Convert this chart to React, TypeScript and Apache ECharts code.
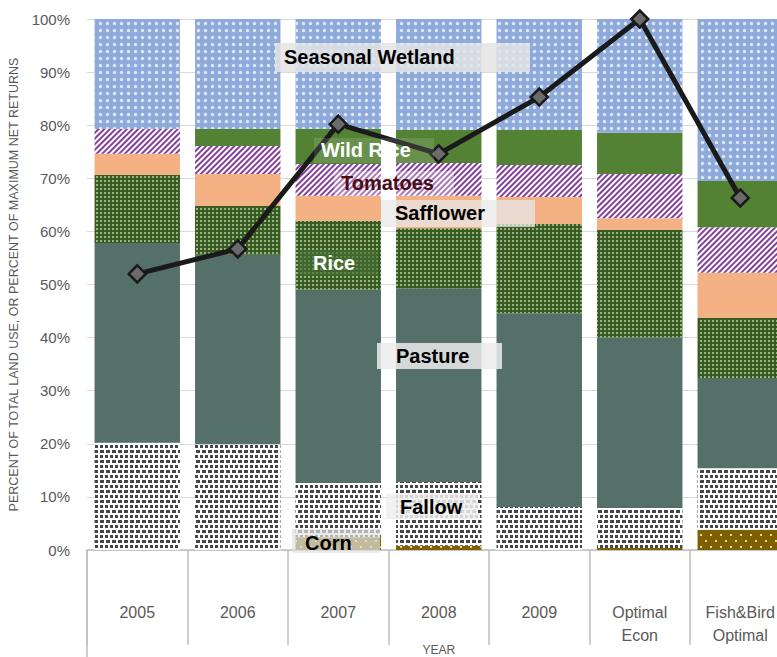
import React, { useEffect, useRef } from "react";
import * as echarts from "echarts";

const categories = ["2005", "2006", "2007", "2008", "2009", "Optimal\nEcon", "Fish&Bird\nOptimal"];
const corn = [0, 0, 2.4, 0.8, 0, 0.4, 3.8];
const fallow = [20.2, 19.9, 10.2, 12.0, 8.1, 7.5, 11.6];
const pasture = [37.6, 35.7, 36.4, 36.5, 36.5, 32.1, 17.0];
const rice = [12.8, 9.2, 13.0, 11.3, 16.8, 20.3, 11.3];
const safflower = [4.0, 6.0, 4.7, 6.1, 5.1, 2.2, 8.5];
const tomatoes = [4.7, 5.3, 6.0, 6.2, 6.0, 8.3, 8.6];
const wildRice = [0, 3.2, 6.6, 6.2, 6.6, 7.8, 8.7];
const seasonalWetland = [20.7, 20.7, 20.7, 20.9, 20.9, 21.4, 30.5];
const netReturns = [52.0, 56.7, 80.2, 74.6, 85.3, 100, 66.3];

const yMin = 0;
const yMax = 100;
const yInterval = 10;

const FONT = "'Liberation Sans', Arial, sans-serif";

type Ann = { text: string; tx: number; ty: number; color: string; box: [number, number, number, number] | null; boxColor: string };
const annotations: Ann[] = [
  { text: "Seasonal Wetland", tx: 284, ty: 57, color: "#000000", box: [275, 43, 255, 29], boxColor: "rgba(228,228,228,0.85)" },
  { text: "Wild Rice", tx: 321, ty: 150, color: "#ffffff", box: [314, 138, 120, 25], boxColor: "rgba(255,255,255,0.12)" },
  { text: "Tomatoes", tx: 341, ty: 183, color: "#4a0a16", box: [334, 171, 120, 25], boxColor: "rgba(255,255,255,0.3)" },
  { text: "Safflower", tx: 395, ty: 213, color: "#000000", box: [381, 200, 154, 27], boxColor: "rgba(232,232,232,0.75)" },
  { text: "Rice", tx: 313, ty: 263, color: "#ffffff", box: [298, 250, 80, 26], boxColor: "rgba(70,110,50,0.65)" },
  { text: "Pasture", tx: 396, ty: 356, color: "#000000", box: [377, 343, 125, 26], boxColor: "rgba(235,235,235,0.85)" },
  { text: "Fallow", tx: 400, ty: 507, color: "#000000", box: [386, 494, 92, 25], boxColor: "rgba(238,238,238,0.85)" },
  { text: "Corn", tx: 305, ty: 543, color: "#000000", box: [292, 529, 88, 24], boxColor: "rgba(225,225,225,0.7)" },
];

export default function App() {
  const ref = useRef<HTMLDivElement>(null);
  useEffect(() => {
    if (!ref.current) return;
    const chart = echarts.init(ref.current, undefined, { renderer: "svg" });

    const barBase = { type: "bar", stack: "total", barCategoryGap: "15%", emphasis: { disabled: true } };

    const graphics: any[] = [
      { type: "line", shape: { x1: 87, y1: 550, x2: 87, y2: 657 }, style: { stroke: "#bfbfbf", lineWidth: 1.5 }, z: 50 },
    ];
    annotations.forEach((a) => {
      if (a.box) {
        graphics.push({ type: "rect", shape: { x: a.box[0], y: a.box[1], width: a.box[2], height: a.box[3] }, style: { fill: a.boxColor }, z: 100 });
      }
      graphics.push({
        type: "text",
        x: a.tx,
        y: a.ty,
        style: { text: a.text, fill: a.color, font: `bold 20px ${FONT}`, textAlign: "left", textVerticalAlign: "middle" },
        z: 101,
      });
    });

    const option: any = {
      animation: false,
      backgroundColor: "#ffffff",
      grid: { left: 87, top: 19, width: 703.5, height: 531, containLabel: false, outerBoundsMode: "none" },
      xAxis: {
        type: "category",
        data: categories,
        name: "YEAR",
        nameLocation: "middle",
        nameGap: 94,
        nameMoveOverlap: false,
        nameTextStyle: { color: "#595959", fontSize: 12, fontFamily: FONT },
        axisLine: { show: true, lineStyle: { color: "#bfbfbf", width: 1.5 } },
        axisTick: { show: true, interval: 0, length: 95, lineStyle: { color: "#bfbfbf", width: 1.5 } },
        axisLabel: { interval: 0, color: "#595959", fontSize: 16, margin: 51, lineHeight: 23, fontFamily: FONT },
      },
      yAxis: {
        type: "value",
        min: yMin,
        max: yMax,
        interval: yInterval,
        name: "PERCENT OF TOTAL LAND USE, OR PERCENT OF MAXIMUM NET RETURNS",
        nameLocation: "middle",
        nameGap: 57,
        nameTextStyle: { color: "#595959", fontSize: 12.5, fontFamily: FONT },
        axisLine: { show: false },
        axisTick: { show: false },
        axisLabel: { formatter: "{value}%", color: "#595959", fontSize: 15, margin: 17, fontFamily: FONT },
        splitLine: { lineStyle: { color: "#d9d9d9", width: 1 } },
      },
      series: [
        {
          ...barBase,
          name: "Corn",
          data: corn,
          itemStyle: {
            color: "#7f6000",
            decal: { symbol: "rect", color: "#e3d3a0", symbolSize: 1, dashArrayX: [[2, 8], [0, 5, 2, 3]], dashArrayY: [2, 4] },
          },
        },
        {
          ...barBase,
          name: "Fallow",
          data: fallow,
          itemStyle: {
            color: "#ffffff",
            decal: { symbol: "rect", color: "#454545", symbolSize: 1, dashArrayX: [[3, 2], [1.5, 2, 1.5, 0]], dashArrayY: [2.5, 1.8] },
          },
        },
        { ...barBase, name: "Pasture", data: pasture, itemStyle: { color: "#557068" } },
        {
          ...barBase,
          name: "Rice",
          data: rice,
          itemStyle: {
            color: "#3a5a25",
            decal: { symbol: "rect", color: "rgba(180,215,150,0.75)", symbolSize: 1, dashArrayX: [1.2, 1.8], dashArrayY: [1.2, 1.8] },
          },
        },
        { ...barBase, name: "Safflower", data: safflower, itemStyle: { color: "#f4b183" } },
        {
          ...barBase,
          name: "Tomatoes",
          data: tomatoes,
          itemStyle: {
            color: "#ffffff",
            decal: { symbol: "rect", color: "#843f9a", symbolSize: 1, dashArrayX: [1, 0], dashArrayY: [2, 1.8], rotation: -Math.PI / 4 },
          },
        },
        { ...barBase, name: "Wild Rice", data: wildRice, itemStyle: { color: "#548235" } },
        {
          ...barBase,
          name: "Seasonal Wetland",
          data: seasonalWetland,
          itemStyle: {
            color: "#8eaadb",
            decal: { symbol: "circle", color: "rgba(225,233,248,0.95)", symbolSize: 0.7, dashArrayX: [4.5, 1.5], dashArrayY: [4.5, 1.5] },
          },
        },
        {
          type: "line",
          name: "Net Returns",
          data: netReturns,
          z: 10,
          symbol: "diamond",
          symbolSize: 17,
          lineStyle: { color: "#1a1a1a", width: 5 },
          itemStyle: { color: "#6b6b6b", borderColor: "#1a1a1a", borderWidth: 2.5 },
          emphasis: { disabled: true },
        },
      ],
      graphic: graphics,
    };
    chart.setOption(option);
    return () => chart.dispose();
  }, []);

  return (
    <div style={{ position: "fixed", left: 0, top: 0, width: 777, height: 657, overflow: "hidden", background: "#fff" }}>
      <div ref={ref} style={{ width: 820, height: 657 }} />
    </div>
  );
}
